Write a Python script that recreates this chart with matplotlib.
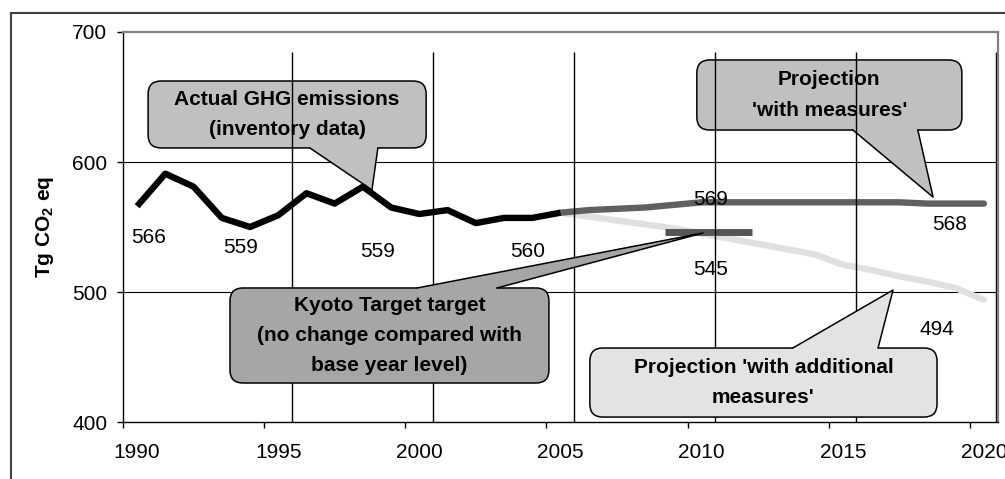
import numpy as np
import matplotlib
matplotlib.use('Agg')
import matplotlib.pyplot as plt
from matplotlib.patches import FancyBboxPatch, Polygon
from matplotlib.lines import Line2D

plt.rcParams['font.family'] = ['Liberation Sans', 'DejaVu Sans']
plt.rcParams['mathtext.fontset'] = 'custom'
plt.rcParams['mathtext.rm'] = 'Liberation Sans'
plt.rcParams['mathtext.bf'] = 'Liberation Sans:bold'

# --- data ---
years_actual = np.arange(1990, 2006)
actual = [566, 591, 581, 557, 550, 559, 576, 568, 581, 565, 560, 563, 553, 557, 557, 561]

years_proj = np.arange(2005, 2021)
with_measures = [561, 563, 564, 565, 567, 569, 569, 569, 569, 569, 569, 569, 569, 568, 568, 568]
with_additional = [561, 558, 555, 552, 549, 545, 541, 537, 533, 529, 521, 517, 512, 508, 503, 494]

kyoto_years = [2008.7, 2011.8]
kyoto_level = 546

tick_years = [1990, 1995, 2000, 2005, 2010, 2015, 2020]
y_ticks = [400, 500, 600, 700]

value_labels = ['566', '559', '559', '560', '569', '568', '545', '494']

# --- layout (annotation positions, data coords) ---
label_pos = [(1990.42, 537.7), (1993.68, 530), (1998.53, 526.9), (2003.85, 526.9),
             (2010.33, 566.9), (2018.8, 547.7), (2010.33, 513.1), (2018.34, 466.9)]
vline_x = [1995.47, 2000.47, 2005.49, 2010.47, 2015.47, 2020.42]

PX_X = 875 / 31.0   # pixels per year
PX_Y = 390 / 300.0  # pixels per Tg


def callout(ax, box, base, tip, text, fc, z):
    x0, x1, y0, y1 = box
    r = 13 / PX_X
    patch = FancyBboxPatch((x0, y0), x1 - x0, y1 - y0,
                           boxstyle='round,pad=0,rounding_size=%f' % r,
                           mutation_aspect=PX_X / PX_Y,
                           fc=fc, ec='black', lw=1.1, zorder=z)
    ax.add_patch(patch)
    if tip[1] < y0:
        edge, inner = y0, y0 + 3 / PX_Y
    else:
        edge, inner = y1, y1 - 3 / PX_Y
    b0, b1 = base
    ax.add_patch(Polygon([(b0, inner), (b0, edge), tip, (b1, edge), (b1, inner)],
                         closed=True, fc=fc, ec='none', zorder=z))
    ax.plot([b0, tip[0], b1], [edge, tip[1], edge], color='black', lw=1.1, zorder=z)
    ax.text((x0 + x1) / 2, (y0 + y1) / 2, text, ha='center', va='center',
            fontsize=15, fontweight='bold', linespacing=1.75, zorder=z)


fig = plt.figure(figsize=(10.05, 4.79), dpi=100)
ax = fig.add_axes([123 / 1005, 1 - 422 / 479, 875 / 1005, 390 / 479])

# outer frame
fig.add_artist(Line2D([11 / 1005, 1], [1 - 13 / 479, 1 - 13 / 479],
                      transform=fig.transFigure, color='#404040', lw=1.5))
fig.add_artist(Line2D([11 / 1005, 11 / 1005], [1 - 13 / 479, 0],
                      transform=fig.transFigure, color='#404040', lw=1.5))

ax.hlines([500, 600], 1989.5, 2020.5, color='black', lw=0.8, zorder=0.5)

callout(ax, (1990.39, 2000.24, 610.8, 662.3), (1996.12, 1998.53), (1998.32, 578.5),
        'Actual GHG emissions\n(inventory data)', '#c0c0c0', 1)
callout(ax, (2009.83, 2019.22, 624.6, 678.5), (2015.36, 2017.66), (2018.2, 573),
        "Projection\n'with measures'", '#c0c0c0', 1)

ax.plot(years_proj, with_additional, color='#e0e0e0', lw=4.6, solid_capstyle='round', zorder=2)
ax.plot(years_proj, with_measures, color='#606060', lw=4.6, solid_capstyle='round', zorder=2.1)
ax.plot(years_actual, actual, color='black', lw=4.6, solid_capstyle='butt', zorder=2.2)
ax.plot(kyoto_years, [kyoto_level, kyoto_level], color='#555555', lw=5, solid_capstyle='butt', zorder=2.3)

ax.vlines(vline_x, 400, 684.6, color='black', lw=1, zorder=2.5)

callout(ax, (1993.29, 2004.59, 430, 503.1), (1999.92, 2002.75), (2010.05, 545.4),
        'Kyoto Target target\n(no change compared with\nbase year level)', '#a6a6a6', 3)
callout(ax, (2006.04, 2018.34, 403.8, 456.9), (2013.23, 2016.25), (2016.78, 501.5),
        "Projection 'with additional\nmeasures'", '#e3e3e3', 3)

for txt, (lx, ly) in zip(value_labels, label_pos):
    ax.text(lx, ly, txt, ha='center', va='baseline', fontsize=15, zorder=4)

ax.set_xlim(1989.5, 2020.5)
ax.set_ylim(400, 700)
ax.set_xticks(tick_years)
ax.set_xticklabels([str(y) for y in tick_years])
ax.set_xticks(np.arange(1989.5, 2020, 5), minor=True)
ax.tick_params(axis='x', which='major', length=0, pad=15, labelsize=15)
ax.tick_params(axis='x', which='minor', length=4.3, width=1, direction='out')
ax.set_yticks(y_ticks)
ax.tick_params(axis='y', length=4.3, width=1, pad=7, labelsize=15)

for s in ['top', 'right']:
    ax.spines[s].set_color('#808080')
    ax.spines[s].set_linewidth(1.6)
for s in ['left', 'bottom']:
    ax.spines[s].set_color('black')
    ax.spines[s].set_linewidth(1)

fig.text(45 / 1005, 1 - 227 / 479, r'Tg CO$_\mathbf{2}$ eq', rotation=90,
         ha='center', va='center', fontsize=15, fontweight='bold')

fig.savefig('out.png', dpi=100, facecolor='white')
